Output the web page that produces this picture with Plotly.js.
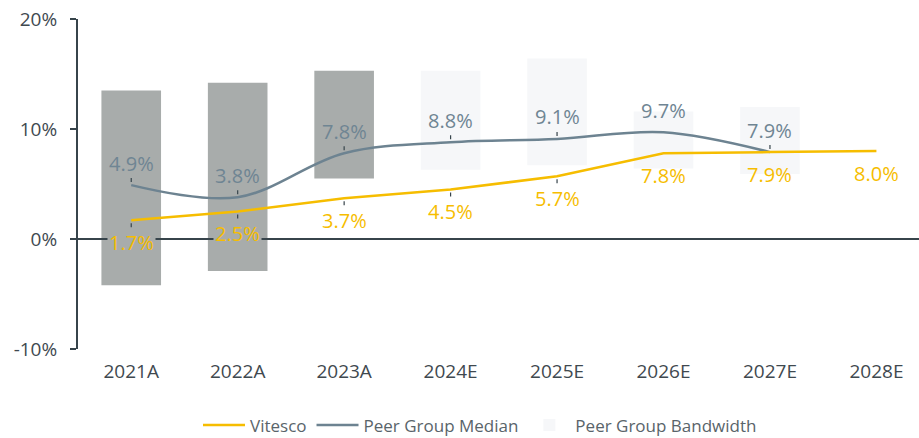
<!DOCTYPE html>
<html>
<head>
<meta charset="utf-8">
<script src="https://cdn.plot.ly/plotly-3.0.1.min.js"></script>
<style>html,body{margin:0;padding:0;background:#fff;}#chart{width:919px;height:438px;}</style>
</head>
<body>
<div id="chart"></div>
<script>
// ---- data ----
const categories = ['2021A','2022A','2023A','2024E','2025E','2026E','2027E','2028E'];
const vitesco    = [1.7, 2.5, 3.7, 4.5, 5.7, 7.8, 7.9, 8.0];
const peerMedian = [4.9, 3.8, 7.8, 8.8, 9.1, 9.7, 7.9, null];
const bandLow    = [-4.2, -2.9, 5.5, 6.3, 6.7, 6.4, 5.9, null];
const bandHigh   = [13.5, 14.2, 15.3, 15.3, 16.4, 11.6, 12.0, null];
const yTickVals  = [-10, 0, 10, 20];
const yTickText  = ['-10%', '0%', '10%', '20%'];

// ---- styling ----
const C_YELLOW = '#f6bd00';
const C_PEER = '#6d8391';
const C_PEER_TXT = '#6f8593';
const C_BAR_ACT = '#a8acab';
const C_BAR_EST = '#f6f7f9';
const C_AXIS = '#37444b';
const FONT = '"Open Sans", "Noto Sans", sans-serif';

const isActual = c => c.endsWith('A');
const actIdx = [], estIdx = [];
categories.forEach((c, i) => {
  if (bandHigh[i] == null) return;
  (isActual(c) ? actIdx : estIdx).push(i);
});
function bandTrace(idx, color, show) {
  return {
    type: 'bar',
    x: idx.map(i => categories[i]),
    base: idx.map(i => bandLow[i]),
    y: idx.map(i => bandHigh[i] - bandLow[i]),
    width: 0.56,
    marker: {color: color, line: {width: 0}},
    name: 'Peer Group Bandwidth',
    showlegend: show,
    legendrank: 3,
    hoverinfo: 'skip'
  };
}

const traces = [
  bandTrace(actIdx, C_BAR_ACT, false),
  bandTrace(estIdx, C_BAR_EST, true),
  {
    type: 'scatter', mode: 'lines', x: categories, y: peerMedian,
    name: 'Peer Group Median', line: {color: C_PEER, width: 2.5, shape: 'spline', smoothing: 1},
    legendrank: 2, hoverinfo: 'skip'
  },
  {
    type: 'scatter', mode: 'lines', x: categories, y: vitesco,
    name: 'Vitesco', line: {color: C_YELLOW, width: 2.5},
    legendrank: 1, hoverinfo: 'skip'
  }
];

const peerNoTick = new Set(['2026E']);
const vitNoTick = new Set(['2026E', '2027E', '2028E']);
const annotations = [];
function addLabels(vals, color, dir, noTick) {
  vals.forEach((v, i) => {
    if (v == null) return;
    const a = {
      x: categories[i], y: v, xref: 'x', yref: 'y',
      text: v.toFixed(1) + '%',
      font: {family: FONT, size: 20, color: color}
    };
    // labels sitting on the zero line inside a dark bar get the bar colour behind them
    if (dir > 0 && isActual(categories[i]) && bandLow[i] != null && bandLow[i] < 0) {
      a.bgcolor = C_BAR_ACT;
    }
    if (noTick.has(categories[i])) {
      a.showarrow = false; a.yshift = -dir * 22;
    } else {
      Object.assign(a, {showarrow: true, arrowhead: 0, arrowwidth: 1.2, arrowcolor: C_AXIS,
        ax: 0, ay: dir * 22, standoff: 3});
    }
    annotations.push(a);
  });
}
addLabels(peerMedian, C_PEER_TXT, -1, peerNoTick);
addLabels(vitesco, C_YELLOW, 1, vitNoTick);

const layout = {
  width: 919, height: 438,
  margin: {l: 78, r: 0, t: 19, b: 89, autoexpand: false},
  paper_bgcolor: '#fff', plot_bgcolor: '#fff',
  barmode: 'overlay',
  showlegend: true,
  font: {family: FONT, color: '#3f494f'},
  xaxis: {
    type: 'category', range: [-0.5, 7.4],
    showgrid: false, zeroline: false, showline: false, ticks: '',
    tickangle: 0, automargin: false,
    tickfont: {family: FONT, size: 19, color: '#3f494f'},
    ticklabelstandoff: 9, fixedrange: true
  },
  yaxis: {
    range: [-10, 20], tickmode: 'array', tickvals: yTickVals, ticktext: yTickText,
    showgrid: false, zeroline: true, zerolinecolor: C_AXIS, zerolinewidth: 2,
    zerolinelayer: 'above traces',
    showline: true, linecolor: C_AXIS, linewidth: 2,
    ticks: 'outside', ticklen: 6, tickwidth: 2, tickcolor: C_AXIS,
    automargin: false,
    tickfont: {family: FONT, size: 19, color: '#3f494f'},
    ticklabelstandoff: 9, fixedrange: true
  },
  legend: {
    orientation: 'h', x: 0.478, xanchor: 'center',
    y: -0.232, yanchor: 'middle',
    font: {family: FONT, size: 17, color: '#59646a'},
    traceorder: 'normal', itemwidth: 42
  },
  annotations: annotations
};

Plotly.newPlot('chart', traces, layout, {displayModeBar: false, staticPlot: true});
</script>
</body>
</html>
